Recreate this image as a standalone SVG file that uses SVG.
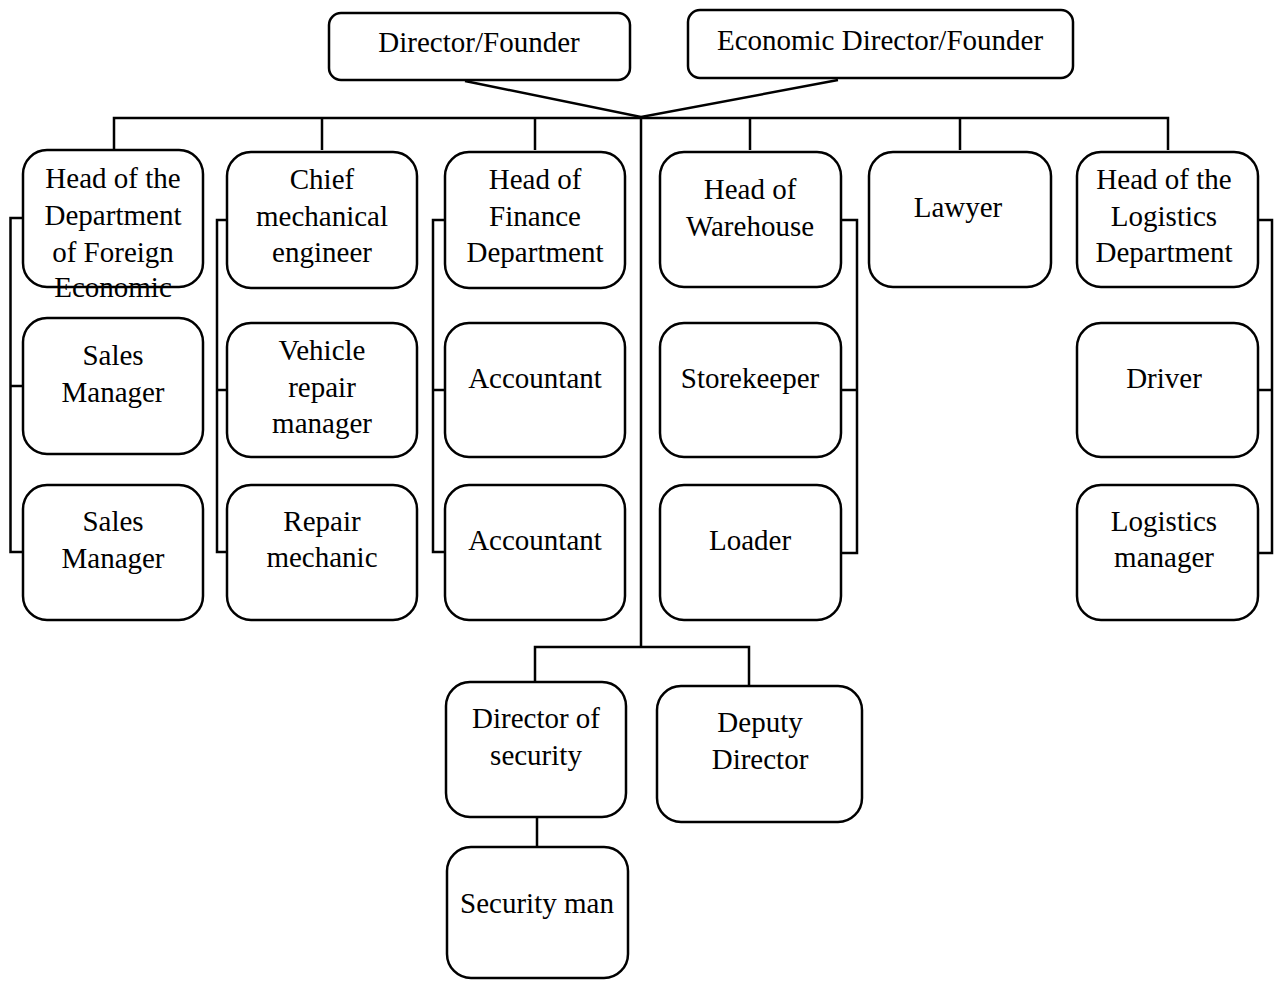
<svg xmlns="http://www.w3.org/2000/svg" width="1275" height="981" viewBox="0 0 1275 981">
<style>
.b{fill:#fff;stroke:#000;stroke-width:2.5}
.t{font-family:"Liberation Serif","Times New Roman",serif;font-size:29px;fill:#000;text-anchor:middle}
.c{fill:none;stroke:#000;stroke-width:2.5}
</style>
<rect width="1275" height="981" fill="#fff"/>
<g id="connectors">
<path class="c" d="M465,81 L641,117 L838,80"/>
<path class="c" d="M114,150 V118 H1168 V150 M322,118 V150 M535,118 V150 M750,118 V150 M960,118 V150"/>
<path class="c" d="M641,117 V647 M535,682 V647 H749 V686 M537,817 V847"/>
<path class="c" d="M23,218 H10.5 V552 H23 M10.5,386 H23"/>
<path class="c" d="M227,220 H217 V552 H227 M217,390 H227"/>
<path class="c" d="M445,220 H433 V552 H445 M433,390 H445"/>
<path class="c" d="M841,220 H857 V553 H841 M857,390 H841"/>
<path class="c" d="M1258,220 H1272 V553 H1258 M1272,390 H1258"/>
</g>
<g id="director"><rect class="b" x="329" y="13" width="301" height="67" rx="12"/><text class="t" x="479" y="52">Director/Founder</text></g>
<g id="econ-director"><rect class="b" x="688" y="10" width="385" height="68" rx="12"/><text class="t" x="880" y="50">Economic Director/Founder</text></g>
<g id="head-foreign"><rect class="b" x="23" y="150" width="180" height="137" rx="24"/><text class="t" x="113" y="188">Head of the</text><text class="t" x="113" y="225">Department</text><text class="t" x="113" y="262">of Foreign</text><text class="t" x="113" y="297">Economic</text></g>
<g id="chief-mech"><rect class="b" x="227" y="152" width="190" height="136" rx="24"/><text class="t" x="322" y="189">Chief</text><text class="t" x="322" y="226">mechanical</text><text class="t" x="322" y="262">engineer</text></g>
<g id="head-finance"><rect class="b" x="445" y="152" width="180" height="136" rx="24"/><text class="t" x="535" y="189">Head of</text><text class="t" x="535" y="226">Finance</text><text class="t" x="535" y="262">Department</text></g>
<g id="head-warehouse"><rect class="b" x="660" y="152" width="181" height="135" rx="24"/><text class="t" x="750" y="199">Head of</text><text class="t" x="750" y="236">Warehouse</text></g>
<g id="lawyer"><rect class="b" x="869" y="152" width="182" height="135" rx="24"/><text class="t" x="958" y="217">Lawyer</text></g>
<g id="head-logistics"><rect class="b" x="1077" y="152" width="181" height="135" rx="24"/><text class="t" x="1164" y="189">Head of the</text><text class="t" x="1164" y="226">Logistics</text><text class="t" x="1164" y="262">Department</text></g>
<g id="sales1"><rect class="b" x="23" y="318" width="180" height="136" rx="24"/><text class="t" x="113" y="365">Sales</text><text class="t" x="113" y="402">Manager</text></g>
<g id="sales2"><rect class="b" x="23" y="485" width="180" height="135" rx="24"/><text class="t" x="113" y="531">Sales</text><text class="t" x="113" y="568">Manager</text></g>
<g id="vehicle-repair"><rect class="b" x="227" y="323" width="190" height="134" rx="24"/><text class="t" x="322" y="360">Vehicle</text><text class="t" x="322" y="397">repair</text><text class="t" x="322" y="433">manager</text></g>
<g id="repair-mechanic"><rect class="b" x="227" y="485" width="190" height="135" rx="24"/><text class="t" x="322" y="531">Repair</text><text class="t" x="322" y="567">mechanic</text></g>
<g id="accountant1"><rect class="b" x="445" y="323" width="180" height="134" rx="24"/><text class="t" x="535" y="388">Accountant</text></g>
<g id="accountant2"><rect class="b" x="445" y="485" width="180" height="135" rx="24"/><text class="t" x="535" y="550">Accountant</text></g>
<g id="storekeeper"><rect class="b" x="660" y="323" width="181" height="134" rx="24"/><text class="t" x="750" y="388">Storekeeper</text></g>
<g id="loader"><rect class="b" x="660" y="485" width="181" height="135" rx="24"/><text class="t" x="750" y="550">Loader</text></g>
<g id="driver"><rect class="b" x="1077" y="323" width="181" height="134" rx="24"/><text class="t" x="1164" y="388">Driver</text></g>
<g id="logistics-manager"><rect class="b" x="1077" y="485" width="181" height="135" rx="24"/><text class="t" x="1164" y="531">Logistics</text><text class="t" x="1164" y="567">manager</text></g>
<g id="director-security"><rect class="b" x="446" y="682" width="180" height="135" rx="24"/><text class="t" x="536" y="728">Director of</text><text class="t" x="536" y="765">security</text></g>
<g id="deputy-director"><rect class="b" x="657" y="686" width="205" height="136" rx="24"/><text class="t" x="760" y="732">Deputy</text><text class="t" x="760" y="769">Director</text></g>
<g id="security-man"><rect class="b" x="447" y="847" width="181" height="131" rx="24"/><text class="t" x="537" y="913">Security man</text></g>
</svg>
